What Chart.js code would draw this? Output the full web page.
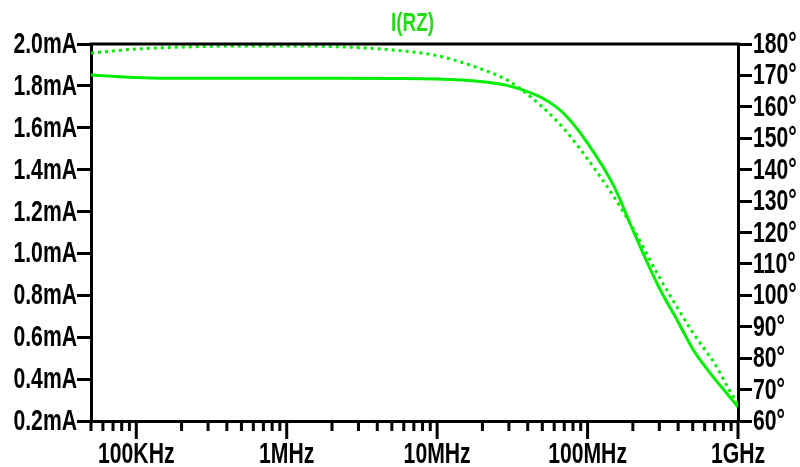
<!DOCTYPE html>
<html>
<head>
<meta charset="utf-8">
<script src="https://cdn.jsdelivr.net/npm/chart.js@4.4.1/dist/chart.umd.min.js"></script>
<style>
html,body{margin:0;padding:0;background:#fff;}
#wrap{width:800px;height:467px;}
</style>
</head>
<body>
<div id="wrap"><canvas id="c" width="800" height="467"></canvas></div>
<script>
// ---- data ----
const freqHz = [5e4, 7e4, 1e5, 2e5, 5e5, 1e6, 2e6, 5e6, 1e7, 2e7, 3e7, 5e7, 7e7, 1e8, 1.5e8, 2e8, 3e8, 4e8, 5e8, 6e8, 7e8, 8.5e8, 1e9];
const magmA  = [1.852, 1.846, 1.840, 1.836, 1.836, 1.836, 1.836, 1.835, 1.833, 1.820, 1.800, 1.742, 1.666, 1.527, 1.320, 1.112, 0.835, 0.673, 0.544, 0.463, 0.401, 0.329, 0.267];
const phaseDeg = [177.1, 177.8, 178.4, 179.0, 179.4, 179.4, 179.2, 178.1, 176.3, 171.9, 168.2, 160.0, 152.9, 143.4, 131.3, 121.4, 105.8, 95.7, 88.2, 82.8, 78.3, 71.0, 65.3];
const titleText = 'I(RZ)';
const freqTickValues = [1e5, 1e6, 1e7, 1e8, 1e9];
const freqTickLabels = ['100KHz', '1MHz', '10MHz', '100MHz', '1GHz'];
const magTickValues = [0.2, 0.4, 0.6, 0.8, 1.0, 1.2, 1.4, 1.6, 1.8, 2.0];
const magTickLabels = ['0.2mA', '0.4mA', '0.6mA', '0.8mA', '1.0mA', '1.2mA', '1.4mA', '1.6mA', '1.8mA', '2.0mA'];
const phaseTickValues = [60, 70, 80, 90, 100, 110, 120, 130, 140, 150, 160, 170, 180];
const phaseTickLabels = ['60°', '70°', '80°', '90°', '100°', '110°', '120°', '130°', '140°', '150°', '160°', '170°', '180°'];

const GREEN = '#00ee00';
const SX = 0.73;
const FONT = '"Liberation Sans", Arial, sans-serif';

function condensedText(ctx, text, x, y, align, size, color) {
  ctx.save();
  ctx.font = 'bold ' + size + 'px ' + FONT;
  ctx.fillStyle = color;
  ctx.textBaseline = 'middle';
  ctx.textAlign = 'left';
  const w = ctx.measureText(text).width * SX;
  const left = align === 'right' ? x - w : (align === 'center' ? x - w / 2 : x);
  ctx.translate(left, y);
  ctx.scale(SX, 1);
  ctx.fillText(text, 0, 0);
  ctx.restore();
}

const decorPlugin = {
  id: 'decor',
  afterDraw(chart) {
    const ctx = chart.ctx;
    const ca = chart.chartArea;
    const xs = chart.scales.x, yl = chart.scales.yMag, yr = chart.scales.yPh;
    ctx.save();
    ctx.strokeStyle = '#000';
    ctx.lineWidth = 3;
    ctx.beginPath();
    ctx.moveTo(ca.left - 1.5, ca.top);
    ctx.lineTo(ca.right + 1.5, ca.top);
    ctx.stroke();
    xs.ticks.forEach(t => {
      const px = xs.getPixelForValue(t.value);
      const m = t.value / Math.pow(10, Math.floor(Math.log10(t.value) + 1e-9));
      const major = Math.abs(m - 1) < 1e-6;
      ctx.beginPath();
      ctx.moveTo(px, ca.bottom);
      ctx.lineTo(px, ca.bottom + (major ? 18 : 10));
      ctx.stroke();
    });
    ctx.restore();
    freqTickValues.forEach((v, i) => {
      condensedText(ctx, freqTickLabels[i], xs.getPixelForValue(v), 455, 'center', 29, '#000');
    });
    magTickValues.forEach((v, i) => {
      condensedText(ctx, magTickLabels[i], 77, yl.getPixelForValue(v) + 1, 'right', 29, '#000');
    });
    phaseTickValues.forEach((v, i) => {
      condensedText(ctx, phaseTickLabels[i], 753, yr.getPixelForValue(v) + 1, 'left', 29, '#000');
    });
    condensedText(ctx, titleText, (ca.left + ca.right) / 2 - 2, 24, 'center', 26, '#22dd11');
  }
};

const magPoints = freqHz.map((f, i) => ({ x: f, y: magmA[i] }));
const phasePoints = freqHz.map((f, i) => ({ x: f, y: phaseDeg[i] }));

new Chart(document.getElementById('c'), {
  type: 'line',
  data: {
    datasets: [
      {
        label: 'I(RZ) magnitude',
        data: magPoints,
        yAxisID: 'yMag',
        borderColor: GREEN,
        borderWidth: 3,
        pointRadius: 0,
        cubicInterpolationMode: 'monotone',
        fill: false
      },
      {
        label: 'I(RZ) phase',
        data: phasePoints,
        yAxisID: 'yPh',
        borderColor: GREEN,
        borderWidth: 3,
        borderDash: [3, 4],
        pointRadius: 0,
        cubicInterpolationMode: 'monotone',
        fill: false
      }
    ]
  },
  options: {
    responsive: false,
    animation: false,
    devicePixelRatio: 1,
    layout: { padding: { top: 44, left: 0, right: 0, bottom: 0 } },
    plugins: { legend: { display: false }, title: { display: false }, tooltip: { enabled: false } },
    scales: {
      x: {
        type: 'logarithmic',
        position: 'bottom',
        min: 5e4,
        max: 1e9,
        afterBuildTicks(scale) {
          const ticks = [];
          for (let e = 4; e <= 9; e++) {
            for (let m = 1; m <= 9; m++) {
              const v = m * Math.pow(10, e);
              if (v >= 5e4 - 1 && v <= 1e9 + 1) ticks.push({ value: v });
            }
          }
          scale.ticks = ticks;
        },
        afterFit(scale) { scale.height = 46; },
        ticks: { display: false },
        grid: { display: false },
        border: { display: true, color: '#000', width: 3 }
      },
      yMag: {
        type: 'linear',
        position: 'left',
        min: 0.2,
        max: 2.0,
        ticks: { display: false, stepSize: 0.2 },
        afterFit(scale) { scale.width = 91; },
        grid: { display: true, drawOnChartArea: false, drawTicks: true, tickLength: 14, tickWidth: 3, tickColor: '#000' },
        border: { display: true, color: '#000', width: 3 }
      },
      yPh: {
        type: 'linear',
        position: 'right',
        min: 60,
        max: 180,
        ticks: { display: false, stepSize: 10 },
        afterFit(scale) { scale.width = 62; },
        grid: { display: true, drawOnChartArea: false, drawTicks: true, tickLength: 14, tickWidth: 3, tickColor: '#000' },
        border: { display: true, color: '#000', width: 3 }
      }
    }
  },
  plugins: [decorPlugin]
});
</script>
</body>
</html>
